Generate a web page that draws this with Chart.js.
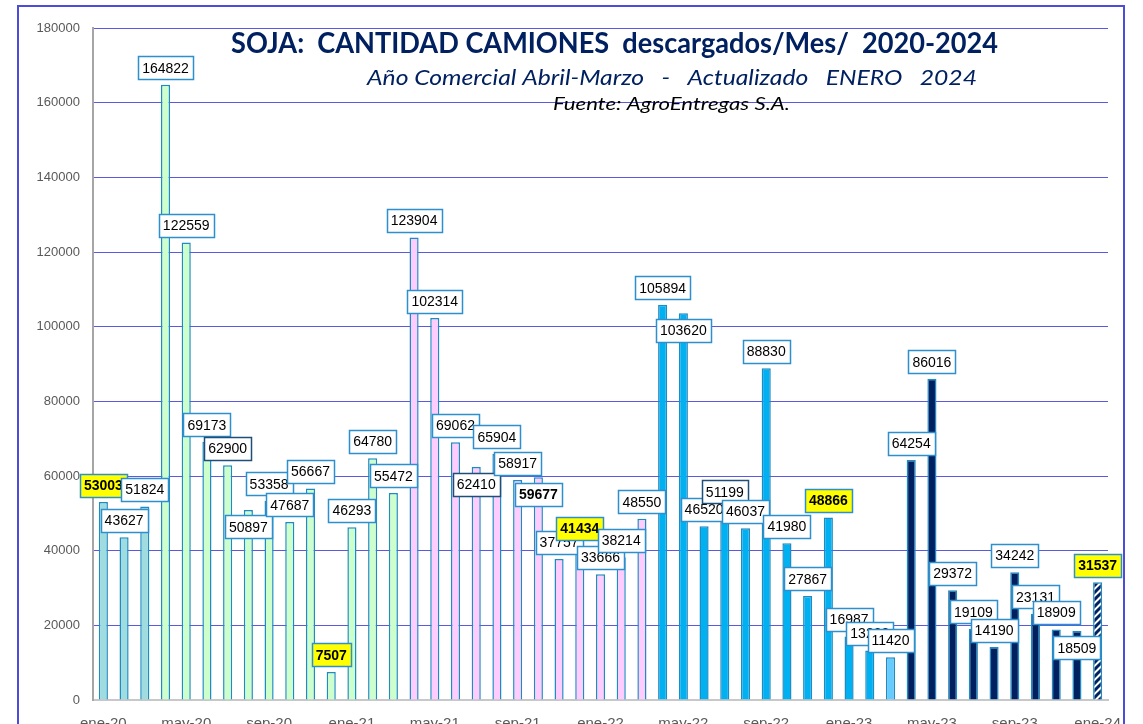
<!DOCTYPE html>
<html>
<head>
<meta charset="utf-8">
<script src="https://cdn.jsdelivr.net/npm/chart.js@4.4.0/dist/chart.umd.min.js"></script>
<style>
  body { margin: 0; overflow: hidden; background: #fff; }
</style>
</head>
<body>
<canvas id="camiones" width="1143" height="760"></canvas>
<script>
// Datos: camiones de soja descargados por mes
const meses = [
  'ene-20', 'feb-20', 'mar-20', 'abr-20', 'may-20', 'jun-20', 'jul-20', 'ago-20', 'sep-20', 'oct-20', 'nov-20', 'dic-20',
  'ene-21', 'feb-21', 'mar-21', 'abr-21', 'may-21', 'jun-21', 'jul-21', 'ago-21', 'sep-21', 'oct-21', 'nov-21', 'dic-21',
  'ene-22', 'feb-22', 'mar-22', 'abr-22', 'may-22', 'jun-22', 'jul-22', 'ago-22', 'sep-22', 'oct-22', 'nov-22', 'dic-22',
  'ene-23', 'feb-23', 'mar-23', 'abr-23', 'may-23', 'jun-23', 'jul-23', 'ago-23', 'sep-23', 'oct-23', 'nov-23', 'dic-23',
  'ene-24'
];
const camiones = [
  53003, 43627, 51824, 164822, 122559, 69173, 62900, 50897, 53358, 47687, 56667, 7507,
  46293, 64780, 55472, 123904, 102314, 69062, 62410, 65904, 58917, 59677, 37757, 41434,
  33666, 38214, 48550, 105894, 103620, 46520, 51199, 46037, 88830, 41980, 27867, 48866,
  16987, 13228, 11420, 64254, 86016, 29372, 19109, 14190, 34242, 23131, 18909, 18509,
  31537
];
const yTicks = [0, 20000, 40000, 60000, 80000, 100000, 120000, 140000, 160000, 180000];

// etiquetas: cuales van debajo del tope, resaltadas en amarillo, en negrita
const debajo = [7, 18, 21, 28, 47];
const resaltados = [0, 11, 23, 35, 48];
const enNegrita = [21];
const bordeOscuro = [6, 18, 30];

// rayado para el ultimo mes (en curso)
const rayado = (function () {
  const c = document.createElement('canvas');
  c.width = 7; c.height = 7;
  const g = c.getContext('2d');
  g.fillStyle = '#ffffff';
  g.fillRect(0, 0, 7, 7);
  g.strokeStyle = '#002060';
  g.lineWidth = 3;
  g.beginPath();
  g.moveTo(-2, 9); g.lineTo(9, -2);
  g.moveTo(-2, 2); g.lineTo(2, -2);
  g.moveTo(5, 9); g.lineTo(9, 5);
  g.stroke();
  return g.createPattern(c, 'repeat');
})();

function colorBarra(i) {
  if (i < 3) return '#9edcdf';
  if (i < 15) return '#ccffcc';
  if (i < 27) return '#ffccff';
  if (i < 38) return '#00b0f0';
  if (i === 38) return '#66ccff';
  if (i < 48) return '#002060';
  return rayado;
}

function textoAjustado(ctx, txt, font, size, left, right, base, color) {
  ctx.save();
  ctx.font = font.replace('SIZE', size + 'px');
  const w = ctx.measureText(txt).width;
  ctx.translate(left, base);
  ctx.scale((right - left) / w, 1);
  ctx.fillStyle = color;
  ctx.textAlign = 'left';
  ctx.textBaseline = 'alphabetic';
  ctx.fillText(txt, 0, 0);
  ctx.restore();
}

const marco = {
  id: 'marco',
  beforeDraw(chart) {
    const ctx = chart.ctx;
    ctx.save();
    ctx.fillStyle = '#fff';
    ctx.fillRect(0, 0, chart.width, chart.height);
    ctx.strokeStyle = '#4b4bdc';
    ctx.lineWidth = 2;
    ctx.strokeRect(18, 6, 1106, 800);
    ctx.restore();
  },
  afterDraw(chart) {
    const ctx = chart.ctx;
    textoAjustado(ctx, 'SOJA:  CANTIDAD CAMIONES  descargados/Mes/  2020-2024',
      'bold SIZE Lato', 29, 231, 998, 53, '#002060');
    textoAjustado(ctx, 'Año Comercial Abril-Marzo   -   Actualizado   ENERO   2024',
      'italic SIZE Lato', 21, 367, 977, 85, '#002060');
    textoAjustado(ctx, 'Fuente: AgroEntregas S.A.',
      'italic SIZE Lato', 18, 553, 790, 110, '#000000');
  }
};

const etiquetas = {
  id: 'etiquetas',
  afterDatasetsDraw(chart) {
    const ctx = chart.ctx;
    const meta = chart.getDatasetMeta(0);
    ctx.save();
    meta.data.forEach((bar, i) => {
      const txt = String(camiones[i]);
      const amarillo = resaltados.includes(i);
      const negrita = amarillo || enNegrita.includes(i);
      ctx.font = (negrita ? 'bold ' : '') + '14px "Liberation Sans"';
      const w = Math.round(ctx.measureText(txt).width + 8);
      const h = 23;
      const cy = debajo.includes(i) ? bar.y + 17 : bar.y - 17;
      const x0 = Math.round(bar.x - w / 2) + 0.5;
      const y0 = Math.round(cy - h / 2) + 0.5;
      ctx.fillStyle = amarillo ? '#ffff00' : '#ffffff';
      ctx.fillRect(x0, y0, w, h);
      ctx.lineWidth = 1.5;
      ctx.strokeStyle = bordeOscuro.includes(i) ? '#1f4e79' : '#2e8fcf';
      ctx.strokeRect(x0, y0, w, h);
      ctx.fillStyle = '#000';
      ctx.textAlign = 'center';
      ctx.textBaseline = 'middle';
      ctx.fillText(txt, bar.x, cy + 1);
    });
    ctx.restore();
  }
};

new Chart(document.getElementById('camiones'), {
  type: 'bar',
  data: {
    labels: meses,
    datasets: [{
      data: camiones,
      backgroundColor: camiones.map((v, i) => colorBarra(i)),
      borderColor: '#1e8bc3',
      borderWidth: 1.5,
      categoryPercentage: 1,
      barPercentage: 0.44
    }]
  },
  options: {
    responsive: false,
    animation: false,
    layout: { padding: { top: 28, right: 35, left: 0, bottom: 0 } },
    plugins: {
      legend: { display: false },
      tooltip: { enabled: false }
    },
    scales: {
      x: {
        grid: { display: false, drawTicks: false },
        border: { color: '#c8c8c8', width: 2 },
        ticks: {
          autoSkip: false,
          maxRotation: 0,
          padding: 15,
          color: '#595959',
          font: { family: 'Liberation Sans', size: 15 },
          callback: (v, i) => (i % 4 === 0 ? meses[i] : '')
        },
        afterFit: s => { s.height = 60; }
      },
      y: {
        min: 0,
        max: 180000,
        afterBuildTicks: s => { s.ticks = yTicks.map(v => ({ value: v })); },
        grid: {
          drawTicks: false,
          color: ctx => (ctx.tick && ctx.tick.value === 0 ? 'rgba(0,0,0,0)' : '#5a5ae0'),
          lineWidth: 1
        },
        border: { color: '#a6a6a6', width: 2 },
        ticks: {
          padding: 13,
          color: '#595959',
          font: { family: 'Liberation Sans', size: 13 },
          callback: v => String(v)
        },
        afterFit: s => { s.width = 93; }
      }
    }
  },
  plugins: [marco, etiquetas]
});
</script>
</body>
</html>
